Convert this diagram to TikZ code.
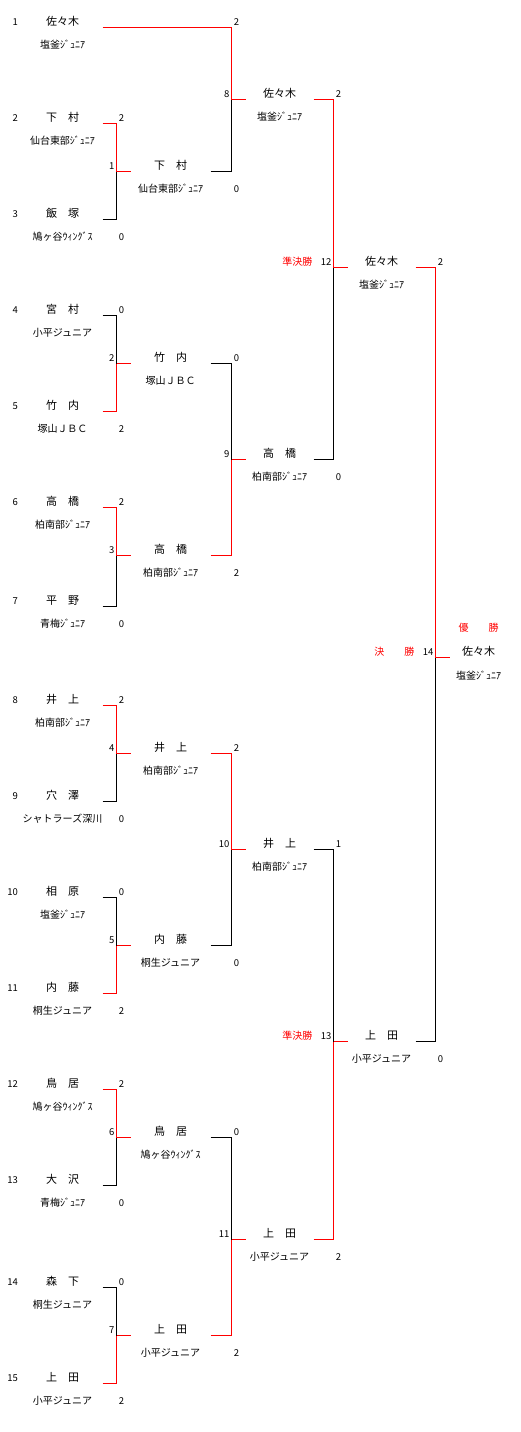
\documentclass[tikz,border=0pt]{standalone}
\usepackage{fontspec}
\setmainfont{Noto Sans CJK JP}
\usetikzlibrary{positioning}
\definecolor{winred}{RGB}{255,0,0}

\begin{document}
\begin{tikzpicture}[
    x=1pt, y=-1pt,
    nm/.style={font=\fontsize{11pt}{11pt}\selectfont, inner sep=0pt, text height=9.7pt, text depth=1.3pt},
    tm/.style={font=\fontsize{10pt}{10pt}\selectfont, inner sep=0pt, text height=8.8pt, text depth=1.2pt},
    sc/.style={font=\fontsize{9.5pt}{9.5pt}\selectfont, inner sep=0pt, text height=8pt, text depth=1pt},
    num/.style={sc, anchor=east},
    lbl/.style={tm, text=winred},
    ln/.style={line width=1pt, draw=black},
    won/.style={line width=1pt, draw=winred}
  ]
  \useasboundingbox (-0.5,-0.5) rectangle (520.5,1431.5);

  % entries
  \foreach \k/\y/\player/\team in {
    1/27/佐々木/塩釜ｼﾞｭﾆｱ, 2/123/下　村/仙台東部ｼﾞｭﾆｱ, 3/219/飯　塚/鳩ヶ谷ｳｨﾝｸﾞｽ,
    4/315/宮　村/小平ジュニア, 5/411/竹　内/塚山ＪＢＣ, 6/507/高　橋/柏南部ｼﾞｭﾆｱ,
    7/606/平　野/青梅ｼﾞｭﾆｱ, 8/705/井　上/柏南部ｼﾞｭﾆｱ, 9/801/穴　澤/シャトラーズ深川,
    10/897/相　原/塩釜ｼﾞｭﾆｱ, 11/993/内　藤/桐生ジュニア, 12/1089/鳥　居/鳩ヶ谷ｳｨﾝｸﾞｽ,
    13/1185/大　沢/青梅ｼﾞｭﾆｱ, 14/1287/森　下/桐生ジュニア, 15/1383/上　田/小平ジュニア}
  {
    \coordinate (e\k) at (102,\y);
    \node[num] (n\k) at (17.5,\y-6) {\k};
    \node[nm] (p\k) at (62,\y-6) {\player};
    \node[tm] (t\k) at (62,\y+17.5) {\team};
  }

  % first round
  \foreach \m/\ym/\fromA/\fromB/\colA/\colB/\scA/\scB/\player/\team in {
    1/171/e2/e3/won/ln/2/0/下　村/仙台東部ｼﾞｭﾆｱ,
    2/363/e4/e5/ln/won/0/2/竹　内/塚山ＪＢＣ,
    3/555/e6/e7/won/ln/2/0/高　橋/柏南部ｼﾞｭﾆｱ,
    4/753/e8/e9/won/ln/2/0/井　上/柏南部ｼﾞｭﾆｱ,
    5/945/e10/e11/ln/won/0/2/内　藤/桐生ジュニア,
    6/1137/e12/e13/won/ln/2/0/鳥　居/鳩ヶ谷ｳｨﾝｸﾞｽ,
    7/1335/e14/e15/ln/won/0/2/上　田/小平ジュニア}
  {
    \coordinate (m\m) at (116,\ym);
    \coordinate (o\m) at (130,\ym);
    \coordinate (w\m) at (210,\ym);
    \draw[\colB] (\fromB) -- (\fromB -| m\m) -- (m\m);
    \draw[\colA] (\fromA) -- (\fromA -| m\m) -- (m\m);
    \draw[won] (m\m) -- (o\m);
    \node[num] (mn\m) at (114,\ym-6) {\m};
    \node[sc, xshift=5pt, yshift=6pt] (sa\m) at (\fromA -| m\m) {\scA};
    \node[sc, xshift=5pt, yshift=-17.5pt] (sb\m) at (\fromB -| m\m) {\scB};
    \node[nm] (wn\m) at (170,\ym-6) {\player};
    \node[tm] (wt\m) at (170,\ym+17.5) {\team};
  }

  % second round and semifinals
  \foreach \vx/\m/\ym/\fromA/\fromB/\colA/\colB/\scA/\scB/\player/\team in {
    231/8/99/e1/w1/won/ln/2/0/佐々木/塩釜ｼﾞｭﾆｱ,
    231/9/459/w2/w3/ln/won/0/2/高　橋/柏南部ｼﾞｭﾆｱ,
    231/10/849/w4/w5/won/ln/2/0/井　上/柏南部ｼﾞｭﾆｱ,
    231/11/1239/w6/w7/ln/won/0/2/上　田/小平ジュニア,
    333/12/267/w8/w9/won/ln/2/0/佐々木/塩釜ｼﾞｭﾆｱ,
    333/13/1041/w10/w11/ln/won/1/2/上　田/小平ジュニア}
  {
    \coordinate (m\m) at (\vx,\ym);
    \coordinate (o\m) at (\vx+14,\ym);
    \coordinate (w\m) at (\vx+82,\ym);
    \draw[\colB] (\fromB) -- (\fromB -| m\m) -- (m\m);
    \draw[\colA] (\fromA) -- (\fromA -| m\m) -- (m\m);
    \draw[won] (m\m) -- (o\m);
    \node[num] (mn\m) at (\vx-2,\ym-6) {\m};
    \node[sc, xshift=5pt, yshift=6pt] (sa\m) at (\fromA -| m\m) {\scA};
    \node[sc, xshift=5pt, yshift=-17.5pt] (sb\m) at (\fromB -| m\m) {\scB};
    \node[nm] (wn\m) at (\vx+48,\ym-6) {\player};
    \node[tm] (wt\m) at (\vx+48,\ym+17.5) {\team};
  }
  \node[lbl, left=8pt of mn12] (sf12) {準決勝};
  \node[lbl, left=8pt of mn13] (sf13) {準決勝};

  % final
  \coordinate (m14) at (435,657);
  \coordinate (o14) at (449,657);
  \draw[ln] (w13) -- (w13 -| m14) -- (m14);
  \draw[won] (w12) -- (w12 -| m14) -- (m14) -- (o14);
  \node[num] (mn14) at (433,651) {14};
  \node[sc, xshift=5pt, yshift=6pt] (sa14) at (w12 -| m14) {2};
  \node[sc, xshift=5pt, yshift=-17.5pt] (sb14) at (w13 -| m14) {0};
  \node[lbl, left=8pt of mn14] (fin) {決　　勝};
  \node[lbl] (champ) at (478,627) {優　　勝};
  \node[nm] (wn14) at (478,651) {佐々木};
  \node[tm] (wt14) at (478,675) {塩釜ｼﾞｭﾆｱ};
\end{tikzpicture}
\end{document}
